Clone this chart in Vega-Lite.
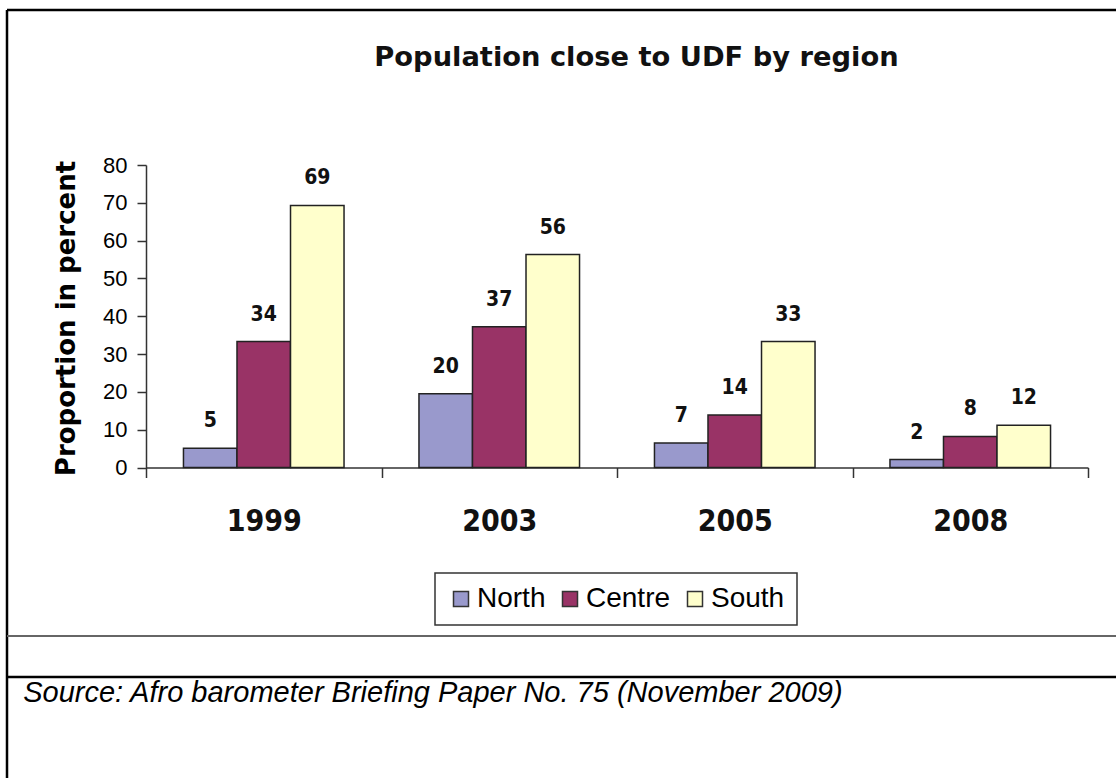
{
  "$schema": "https://vega.github.io/schema/vega-lite/v6.json",
  "width": 1109,
  "height": 768,
  "autosize": {"type": "none"},
  "padding": {"left": 7, "top": 10, "right": 0, "bottom": 0},
  "background": "white",
  "title": {
    "text": "Population close to UDF by region",
    "font": "DejaVu Sans",
    "fontWeight": "bold",
    "fontSize": 27.3,
    "color": "#111",
    "anchor": "middle",
    "frame": "group",
    "offset": 0,
    "baseline": "middle",
    "dy": 75,
    "dx": 75
  },
  "data": {
    "values": [
      {"year": "1999", "region": "North", "value": 5.1, "label": "5"},
      {"year": "1999", "region": "Centre", "value": 33.3, "label": "34"},
      {"year": "1999", "region": "South", "value": 69.3, "label": "69"},
      {"year": "2003", "region": "North", "value": 19.5, "label": "20"},
      {"year": "2003", "region": "Centre", "value": 37.2, "label": "37"},
      {"year": "2003", "region": "South", "value": 56.3, "label": "56"},
      {"year": "2005", "region": "North", "value": 6.5, "label": "7"},
      {"year": "2005", "region": "Centre", "value": 13.9, "label": "14"},
      {"year": "2005", "region": "South", "value": 33.3, "label": "33"},
      {"year": "2008", "region": "North", "value": 2.1, "label": "2"},
      {"year": "2008", "region": "Centre", "value": 8.2, "label": "8"},
      {"year": "2008", "region": "South", "value": 11.2, "label": "12"}
    ]
  },
  "layer": [
    {
      "mark": {"type": "bar", "stroke": "#222", "strokeWidth": 1.5},
      "encoding": {
        "x": {
          "field": "year",
          "type": "nominal",
          "scale": {"range": [139, 1081], "paddingInner": 0, "paddingOuter": 0},
          "axis": {
            "orient": "bottom",
            "offset": -310.5,
            "tickBand": "extent",
            "tickSize": 10,
            "tickColor": "#333",
            "tickWidth": 1.5,
            "domainColor": "#333",
            "domainWidth": 1.5,
            "labelFont": "DejaVu Sans Condensed",
            "labelFontWeight": "bold",
            "labelFontSize": 30,
            "labelColor": "#111",
            "labelPadding": 29,
            "labelAngle": 0,
            "grid": false,
            "title": "Source: Afro barometer Briefing Paper No. 75 (November 2009)",
            "titleFont": "Liberation Sans",
            "titleFontStyle": "italic",
            "titleFontWeight": "normal",
            "titleFontSize": 29,
            "titleColor": "black",
            "titleAlign": "left",
            "titleBaseline": "alphabetic",
            "titleX": 15.7,
            "titleY": 234
          }
        },
        "xOffset": {
          "field": "region",
          "type": "nominal",
          "sort": ["North", "Centre", "South"],
          "scale": {"range": [0, 235.5], "paddingInner": 0, "paddingOuter": 0.7}
        },
        "y": {
          "field": "value",
          "type": "quantitative",
          "scale": {"domain": [0, 80], "range": [457.5, 155], "nice": false, "zero": true},
          "axis": {
            "offset": -139,
            "values": [0, 10, 20, 30, 40, 50, 60, 70, 80],
            "tickSize": 9,
            "tickColor": "#333",
            "tickWidth": 1.5,
            "domainColor": "#333",
            "domainWidth": 1.5,
            "labelPadding": 10,
            "labelFont": "Liberation Sans",
            "labelFontSize": 22,
            "labelColor": "black",
            "grid": false,
            "title": "Proportion in percent",
            "titleFont": "DejaVu Sans",
            "titleFontWeight": "bold",
            "titleFontSize": 26,
            "titleColor": "black",
            "titleAngle": 270,
            "titleAlign": "center",
            "titleBaseline": "middle",
            "titleX": -80,
            "titleY": 308
          }
        },
        "color": {
          "field": "region",
          "type": "nominal",
          "sort": ["North", "Centre", "South"],
          "scale": {"domain": ["North", "Centre", "South"], "range": ["#9999CC", "#993366", "#FFFFCC"]},
          "legend": {
            "orient": "none",
            "legendX": 428,
            "legendY": 563,
            "direction": "horizontal",
            "title": null,
            "symbolType": "square",
            "symbolSize": 225,
            "symbolStrokeColor": "#333",
            "symbolStrokeWidth": 1.5,
            "symbolOpacity": 1,
            "labelFont": "Liberation Sans",
            "labelFontSize": 28,
            "labelColor": "black",
            "labelOffset": 2,
            "columnPadding": 10,
            "padding": 12,
            "strokeColor": "#333",
            "fillColor": "white"
          }
        }
      }
    },
    {
      "mark": {
        "type": "text",
        "font": "DejaVu Sans Condensed",
        "fontWeight": "bold",
        "fontSize": 21,
        "dy": -27,
        "baseline": "middle",
        "color": "#111"
      },
      "encoding": {
        "x": {"field": "year", "type": "nominal"},
        "xOffset": {"field": "region", "type": "nominal", "sort": ["North", "Centre", "South"]},
        "y": {"field": "value", "type": "quantitative"},
        "text": {"field": "label"}
      }
    },
    {
      "data": {"values": [{}]},
      "mark": {"type": "rule", "color": "#666", "strokeWidth": 2},
      "encoding": {"y": {"datum": -44.56, "type": "quantitative"}}
    },
    {
      "data": {"values": [{}]},
      "mark": {"type": "rule", "color": "black", "strokeWidth": 2.5},
      "encoding": {"y": {"datum": -55.4, "type": "quantitative"}}
    }
  ],
  "config": {
    "view": {"stroke": "black", "strokeWidth": 2.5, "strokeDash": [1109, 1877, 768, 0]},
    "legend": {"strokeWidth": 1.5}
  }
}
